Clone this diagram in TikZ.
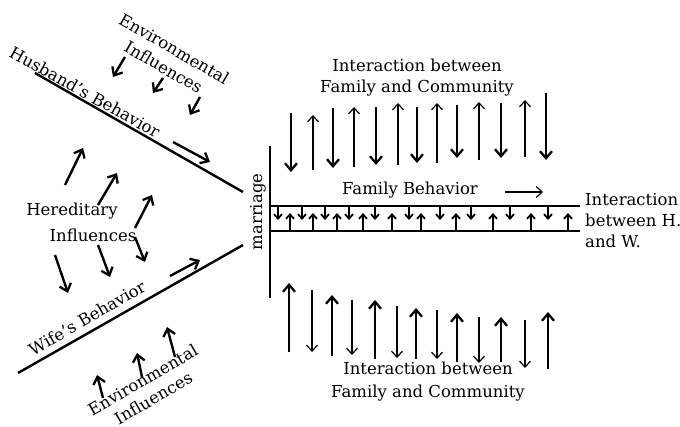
\documentclass[tikz,border=0pt]{standalone}
\usepackage{fontspec}
\setmainfont{DejaVu Serif}
\usetikzlibrary{arrows.meta}
\tikzset{
  lbl/.style={inner sep=0pt, font=\fontsize{16.5}{21}\selectfont},
  thickarr/.style={line width=2.4pt, -{Straight Barb[length=7pt,width=12pt,line width=2.3pt]}},
  thinarr/.style={line width=1.1pt, -{Straight Barb[length=6pt,width=11pt,line width=1.2pt]}},
  bandarr/.style={line width=1.7pt, -{Straight Barb[length=4.5pt,width=8pt,line width=1.8pt]}},
  heavyline/.style={line width=2.4pt},
}
\begin{document}
\begin{tikzpicture}[x=1pt,y=-1pt]
\useasboundingbox (0,0) rectangle (680,427);
% main lines
\coordinate (hs) at (35,73); \coordinate (he) at (243,192);
\coordinate (ws) at (18,373); \coordinate (we) at (243,245);
\coordinate (mt) at (270,146); \coordinate (mb) at (270,298);
\coordinate (btl) at (270,206); \coordinate (btr) at (580,206);
\coordinate (bbl) at (270,231); \coordinate (bbr) at (580,231);
\draw[heavyline] (hs) -- (he);
\draw[heavyline] (ws) -- (we);
\draw[line width=2pt] (mt) -- (mb);
\draw[heavyline] (btl) -- (btr);
\draw[heavyline] (bbl) -- (bbr);
% texts
\node[lbl, rotate=-29] (hb) at (85,92) {Husband's Behavior};
\node[lbl, rotate=30] (wb) at (87,318) {Wife's Behavior};
\node[lbl, rotate=-30, align=center] (envt) at (169,58) {Environmental\\Influences};
\node[lbl, rotate=30, align=center] (envb) at (148,389) {Environmental\\Influences};
\node[lbl] (her) at (72,211) {Hereditary};
\node[lbl] (herinf) at (93,235) {Influences};
\node[lbl, rotate=90] (mar) at (258,212) {marriage};
\node[lbl] (fb) at (410,190) {Family Behavior};
\node[lbl, align=center] (ifct) at (417,78) {Interaction between\\Family and Community};
\node[lbl, align=center, font=\fontsize{16.5}{23}\selectfont] (ifcb) at (428,382) {Interaction between\\Family and Community};
\node[lbl, align=left, anchor=west] (ihw) at (585,221) {Interaction\\between H.\\and W.};
% family behavior arrow
\coordinate (fa1) at (505,192); \coordinate (fa2) at (543,192);
\draw[thinarr] (fa1) -- (fa2);
% husband / wife arrows
\coordinate (ha1) at (173,142); \coordinate (ha2) at (210,162);
\draw[thickarr] (ha1) -- (ha2);
\coordinate (wa1) at (170,276); \coordinate (wa2) at (200,260);
\draw[thickarr] (wa1) -- (wa2);
% environmental top
\foreach \a/\b/\c/\d [count=\i] in {125/57/113/77, 163/78/153/93, 200/97/190/115}{
  \coordinate (et\i a) at (\a,\b); \coordinate (et\i b) at (\c,\d);
  \draw[thickarr] (et\i a) -- (et\i b);
}
% hereditary
\foreach \a/\b/\c/\d [count=\i] in {65/185/83/148, 98/205/117/173, 135/228/152/195,
  55/255/68/293, 98/245/110/277, 135/237/145/262}{
  \coordinate (hr\i a) at (\a,\b); \coordinate (hr\i b) at (\c,\d);
  \draw[thickarr] (hr\i a) -- (hr\i b);
}
% environmental bottom
\foreach \a/\b/\c/\d [count=\i] in {103/398/97/375, 142/377/137/353, 175/357/167/327}{
  \coordinate (eb\i a) at (\a,\b); \coordinate (eb\i b) at (\c,\d);
  \draw[thickarr] (eb\i a) -- (eb\i b);
}
% top community arrows: down thick, up thin
\foreach \x/\t/\b [count=\i] in {291/113/172, 333/108/168, 376/107/165, 417/107/163, 457/105/158, 501/103/158, 546/93/160}{
  \coordinate (td\i a) at (\x,\t); \coordinate (td\i b) at (\x,\b);
  \draw[thickarr] (td\i a) -- (td\i b);
}
\foreach \x/\t/\b [count=\i] in {313/115/170, 354/107/167, 398/103/165, 437/103/163, 479/102/160, 525/100/157}{
  \coordinate (tu\i a) at (\x,\b); \coordinate (tu\i b) at (\x,\t);
  \draw[thinarr] (tu\i a) -- (tu\i b);
}
% bottom community arrows: up thick, down thin
\foreach \x/\t/\b [count=\i] in {289/283/352, 332/295/356, 375/300/359, 416/308/359, 457/313/362, 501/317/362, 548/312/369}{
  \coordinate (bu\i a) at (\x,\b); \coordinate (bu\i b) at (\x,\t);
  \draw[thickarr] (bu\i a) -- (bu\i b);
}
\foreach \x/\t/\b [count=\i] in {312/290/352, 352/300/355, 397/306/358, 437/310/359, 479/317/363, 525/320/368}{
  \coordinate (bd\i a) at (\x,\t); \coordinate (bd\i b) at (\x,\b);
  \draw[thinarr] (bd\i a) -- (bd\i b);
}
% band arrows
\foreach \x [count=\i] in {278,302,325,349,375,409,440,471,510,548}{
  \coordinate (dd\i a) at (\x,206); \coordinate (dd\i b) at (\x,220);
  \draw[bandarr] (dd\i a) -- (dd\i b);
}
\foreach \x [count=\i] in {290,313,337,363,392,421,456,493,531,568}{
  \coordinate (uu\i a) at (\x,231); \coordinate (uu\i b) at (\x,213);
  \draw[bandarr] (uu\i a) -- (uu\i b);
}
\end{tikzpicture}
\end{document}
